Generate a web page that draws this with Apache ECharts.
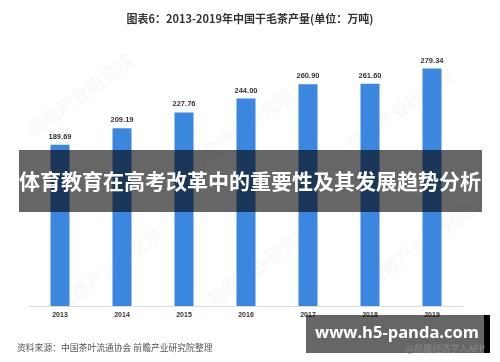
<!DOCTYPE html>
<html>
<head>
<meta charset="utf-8">
<script src="https://cdn.jsdelivr.net/npm/echarts@6/dist/echarts.min.js"></script>
<style>
html,body{margin:0;padding:0;background:#fff;}
#c{width:500px;height:362px;}
</style>
</head>
<body>
<div id="c"></div>
<script>
var years = ['2013','2014','2015','2016','2017','2018','2019'];
var output = [189.69, 209.19, 227.76, 244.00, 260.90, 261.60, 279.34];
var titleText = '图表6：2013-2019年中国干毛茶产量(单位：万吨)';
var bannerText = '体育教育在高考改革中的重要性及其发展趋势分析';
var sourceText = '资料来源：中国茶叶流通协会 前瞻产业研究院整理';
var siteText = 'www.h5-panda.com';
var appText = '@前瞻经济学人APP';

var chart = echarts.init(document.getElementById('c'), null, {renderer:'canvas'});
var cjk = '"Noto Sans CJK SC", "Liberation Sans", sans-serif';
var wm = [[80,95],[240,130],[400,110],[110,270],[260,265],[420,245]];
var wmGraphics = wm.map(function(p){
  return {type:'text', x:p[0], y:p[1], rotation: Math.PI/5, z:1,
    style:{text:'前瞻产业研究院', fill:'rgba(200,200,200,0.10)', font:'bold 18px ' + cjk, textAlign:'center', textVerticalAlign:'middle'}};
});
chart.setOption({
  animation:false,
  title:{text:titleText, left:'center', top:8,
    textStyle:{fontSize:11, fontWeight:'bold', color:'#333', fontFamily:cjk}},
  grid:{left:29, right:37, top:51, bottom:56},
  xAxis:{type:'category', data:years,
    axisLine:{lineStyle:{color:'#dcdcdc', width:1}},
    axisTick:{show:false},
    axisLabel:{fontSize:7, fontWeight:'bold', color:'#333', margin:6, fontFamily:'"Liberation Sans", sans-serif'}},
  yAxis:{type:'value', min:0, max:300, show:false, splitLine:{show:false}},
  series:[{type:'bar', data:output, barWidth:19,
    itemStyle:{color:'#3b87e0'},
    label:{show:true, position:'top', distance:4, fontSize:7.5, fontWeight:'bold', color:'#333',
      fontFamily:'"Liberation Sans", sans-serif',
      formatter:function(p){return p.value.toFixed(2);}}}],
  graphic: wmGraphics.concat([
    {type:'rect', shape:{x:19, y:150, width:463, height:62}, z:100,
      style:{fill:'rgba(5,5,5,0.61)'}},
    {type:'text', x:250, y:181, z:101,
      style:{text:bannerText, fill:'#fff', font:'bold 21px ' + cjk, textAlign:'center', textVerticalAlign:'middle'}},
    {type:'text', x:17, y:348, z:101,
      style:{text:sourceText, fill:'#555', font:'8.8px ' + cjk, textAlign:'left', textVerticalAlign:'middle'}},
    {type:'rect', shape:{x:306, y:315, width:179, height:38}, z:100,
      style:{fill:'rgba(5,5,5,0.61)'}},
    {type:'rect', shape:{x:484, y:315, width:6, height:38}, z:100,
      style:{fill:'#000'}},
    {type:'text', x:397, y:333, z:101,
      style:{text:siteText, fill:'#fff', font:'bold 16.5px "Open Sans", "Liberation Sans", sans-serif', textAlign:'center', textVerticalAlign:'middle'}},
    {type:'text', x:485, y:349, z:101,
      style:{text:appText, fill:'#8a8a8a', font:'9px ' + cjk, textAlign:'right', textVerticalAlign:'middle'}}
  ])
});
</script>
</body>
</html>
